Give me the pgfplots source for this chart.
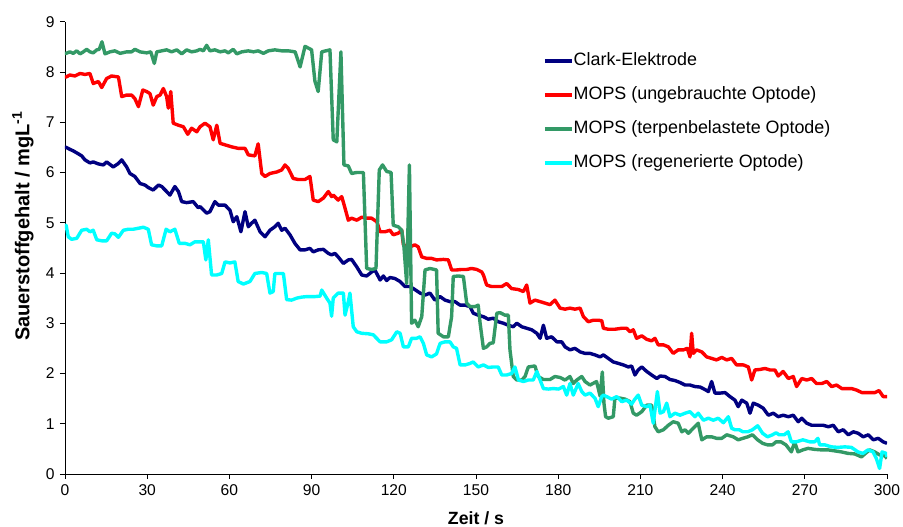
\documentclass[border=0pt]{standalone}
\usepackage{fontspec}
\setmainfont{Liberation Sans}
\usepackage{pgfplots}
\pgfplotsset{compat=1.18}
\definecolor{cnavy}{RGB}{0,0,128}
\definecolor{cred}{RGB}{255,0,0}
\definecolor{cgreen}{RGB}{51,153,102}
\definecolor{ccyan}{RGB}{0,255,255}
\begin{document}
\fontsize{15.6}{18}\selectfont
\begin{tikzpicture}
\begin{axis}[
  scale only axis, width=822pt, height=452.3pt,
  xmin=0, xmax=300, ymin=0, ymax=9,
  axis lines*=left,
  xtick={0,30,...,300}, ytick={0,1,...,9},
  tick align=outside, major tick length=5pt,
  tick style={black, line width=0.8pt},
  axis line style={black, line width=0.8pt},
  /pgf/number format/assume math mode=true,
  ticklabel style={font=\fontsize{15.6}{18}\selectfont},
  xlabel={\textbf{Zeit / s}},
  ylabel={\textbf{Sauerstoffgehalt / mgL\textsuperscript{-1}}},
  xlabel style={font=\fontsize{17.7}{20}\selectfont, at={(axis description cs:0.5,0)}, anchor=center, yshift=-44pt},
  ylabel style={font=\fontsize{20}{22}\selectfont, at={(axis description cs:0,0.548)}, anchor=center, yshift=42pt},
  legend cell align=left,
  legend style={at={(axis description cs:0.5815,0.9325)}, anchor=north west, draw=none, fill=none,
    font=\fontsize{17.9}{20}\selectfont, inner xsep=0pt, inner ysep=0pt,
    nodes={inner sep=0pt, text height=13pt, text depth=4.5pt}, row sep=16.5pt},
  legend image code/.code={\draw[#1, line width=3.5pt] (0pt,0pt) -- (27pt,0pt);},
  every axis plot/.append style={line width=3.4pt, line join=round},
]
\addplot[cnavy] coordinates {(0,6.5)(0.4,6.5)(1.8,6.46)(3.0,6.43)(4.9,6.37)(6.1,6.33)(7.3,6.25)(9.1,6.19)(10.3,6.21)(12.2,6.17)(14.0,6.15)(15.2,6.21)(17.6,6.11)(19.5,6.18)(20.7,6.25)(22.5,6.11)(23.7,5.98)(25.5,5.92)(27.4,5.78)(29.2,5.75)(30.4,5.70)(32.2,5.65)(34.1,5.75)(35.3,5.72)(37.1,5.62)(38.3,5.55)(40.1,5.72)(41.4,5.62)(42.6,5.42)(44.4,5.40)(46.8,5.42)(48.6,5.30)(49.3,5.32)(51.7,5.19)(52.9,5.22)(54.7,5.42)(56.0,5.35)(58.4,5.35)(60.2,5.25)(61.4,5.02)(62.7,5.12)(64.2,4.82)(65.7,5.22)(66.9,4.92)(68.1,4.99)(69.3,5.05)(71.2,4.82)(73.0,4.72)(74.8,4.85)(76.6,4.92)(77.8,4.99)(79.1,4.85)(80.3,4.89)(82.1,4.76)(83.9,4.59)(85.8,4.46)(87.6,4.46)(89.4,4.49)(90.6,4.42)(92.4,4.46)(94.3,4.47)(96.1,4.39)(97.3,4.36)(98.5,4.39)(99.7,4.32)(101.6,4.19)(103.4,4.26)(104.6,4.27)(106.5,4.12)(108.3,3.96)(110.1,3.94)(111.9,4.02)(113.1,4.06)(115.0,3.86)(116.2,3.94)(117.4,3.85)(118.6,3.91)(120.4,3.89)(122.3,3.83)(124.1,3.73)(125.9,3.73)(127.7,3.67)(129.6,3.60)(131.4,3.56)(133.2,3.60)(135.0,3.46)(136.9,3.53)(138.7,3.46)(140.5,3.43)(142.3,3.43)(144.2,3.36)(146.0,3.36)(147.8,3.33)(149.0,3.20)(150.8,3.16)(152.7,3.13)(154.5,3.08)(156.3,3.10)(158.1,3.03)(160.0,3.00)(161.8,2.96)(163.6,2.93)(164.9,3.00)(166.7,2.93)(168.5,2.90)(170.3,2.87)(172.2,2.80)(173.4,2.70)(174.6,2.96)(175.8,2.70)(177.6,2.73)(179.5,2.63)(181.3,2.63)(182.5,2.53)(184.3,2.47)(186.1,2.50)(188.0,2.43)(189.8,2.40)(191.6,2.40)(193.4,2.37)(195.3,2.33)(196.5,2.37)(198.3,2.30)(200.1,2.23)(202.0,2.20)(203.8,2.17)(205.6,2.13)(206.8,2.15)(208.0,1.97)(209.2,2.07)(210.5,2.13)(212.3,2.04)(214.1,1.97)(216.0,1.90)(217.2,1.95)(219.0,1.94)(220.8,1.88)(222.6,1.86)(224.5,1.82)(226.3,1.77)(228.1,1.77)(229.9,1.74)(231.8,1.73)(233.6,1.68)(234.8,1.64)(236.0,1.84)(237.2,1.61)(239.1,1.61)(240.9,1.62)(242.7,1.54)(244.5,1.47)(245.7,1.34)(247.0,1.47)(248.8,1.41)(250.0,1.21)(251.2,1.41)(253.0,1.37)(254.8,1.31)(256.7,1.17)(258.5,1.21)(260.3,1.14)(262.1,1.17)(264.0,1.14)(265.8,1.17)(267.6,1.04)(268.9,1.11)(270.7,1.01)(272.5,0.97)(274.9,0.97)(276.7,0.97)(278.6,0.94)(280.4,0.97)(282.2,0.84)(284.0,0.88)(285.9,0.78)(287.7,0.84)(289.5,0.81)(291.3,0.74)(293.2,0.78)(295.0,0.68)(296.8,0.71)(298.6,0.64)(300,0.61)};
\addlegendentry{Clark-Elektrode}
\addplot[cred] coordinates {(0,7.9)(0.4,7.90)(1.8,7.94)(3.6,7.92)(5.5,7.97)(7.3,7.95)(9.1,7.97)(10.3,7.77)(12.2,7.81)(13.4,7.69)(15.2,7.87)(17.0,7.92)(19.5,7.90)(20.7,7.51)(22.5,7.54)(24.3,7.54)(25.5,7.47)(26.8,7.31)(28.4,7.64)(29.8,7.61)(31.0,7.57)(32.2,7.34)(33.5,7.51)(34.7,7.54)(35.9,7.67)(37.1,7.51)(37.7,7.28)(38.6,7.61)(39.5,6.98)(41.4,6.94)(43.2,6.91)(44.8,6.76)(46.2,6.88)(48.1,6.81)(49.3,6.91)(51.1,6.98)(52.9,6.91)(54.1,6.65)(55.4,6.94)(56.6,6.58)(58.4,6.55)(60.8,6.51)(63.2,6.48)(65.7,6.48)(66.9,6.35)(69.3,6.33)(70.5,6.57)(71.8,5.98)(73.0,5.92)(74.8,5.98)(77.3,6.01)(79.1,6.05)(80.3,6.15)(81.5,6.08)(83.3,5.88)(85.1,5.86)(87.6,5.86)(89.4,5.92)(90.6,5.45)(92.4,5.42)(94.3,5.49)(96.1,5.62)(97.3,5.52)(97.9,5.55)(99.7,5.45)(101.0,5.52)(102.2,5.29)(103.4,5.05)(104.6,5.09)(106.5,5.05)(108.3,5.11)(110.1,5.09)(111.9,5.09)(113.8,5.02)(115.0,4.82)(116.8,4.82)(118.6,4.85)(119.8,4.76)(121.6,4.79)(122.9,4.85)(123.5,4.56)(125.9,4.52)(127.7,4.56)(128.9,4.52)(130.2,4.32)(132.0,4.29)(133.8,4.29)(135.6,4.26)(138.1,4.27)(139.9,4.26)(141.1,4.06)(142.9,4.06)(144.8,4.07)(146.6,4.07)(148.4,4.09)(150.3,4.07)(152.1,4.02)(152.7,3.96)(153.9,3.76)(155.7,3.73)(157.6,3.73)(159.4,3.73)(161.2,3.79)(163.0,3.69)(165.5,3.67)(167.3,3.63)(168.5,3.76)(169.7,3.40)(171.5,3.46)(173.4,3.43)(175.2,3.40)(177.0,3.37)(178.8,3.46)(180.7,3.30)(182.5,3.28)(184.3,3.30)(186.1,3.28)(188.0,3.30)(189.2,3.13)(191.0,3.03)(192.8,3.06)(194.6,3.06)(195.9,3.05)(196.5,2.90)(198.3,2.88)(200.7,2.88)(203.2,2.90)(205.0,2.90)(206.2,2.83)(207.4,2.87)(208.6,2.70)(210.5,2.75)(212.3,2.68)(214.1,2.65)(215.3,2.70)(216.5,2.57)(218.4,2.57)(220.2,2.53)(222.0,2.40)(223.8,2.47)(225.7,2.47)(227.1,2.50)(228.1,2.33)(228.7,2.80)(229.3,2.40)(230.5,2.47)(232.4,2.43)(234.2,2.33)(236.0,2.30)(237.8,2.27)(239.7,2.32)(241.5,2.27)(243.3,2.30)(245.1,2.17)(247.6,2.17)(249.4,2.13)(250.6,1.87)(251.8,2.07)(253.6,2.08)(255.5,2.10)(257.3,2.07)(259.1,2.07)(260.3,1.95)(262.1,2.04)(264.0,1.90)(265.8,1.94)(267.0,1.74)(268.9,1.90)(270.7,1.87)(272.5,1.90)(274.3,1.80)(276.2,1.80)(278.0,1.84)(279.8,1.74)(281.6,1.77)(283.5,1.70)(285.3,1.70)(287.1,1.70)(288.9,1.67)(290.8,1.62)(293.2,1.62)(295.6,1.62)(297.1,1.66)(298.6,1.54)(300,1.54)};
\addlegendentry{MOPS (ungebrauchte Optode)}
\addplot[cgreen] coordinates {(0,8.37)(0.4,8.37)(1.8,8.40)(3.0,8.37)(4.3,8.42)(5.5,8.36)(6.7,8.40)(7.9,8.45)(9.1,8.40)(10.3,8.38)(11.6,8.44)(12.5,8.45)(13.5,8.60)(14.6,8.36)(16.4,8.40)(18.2,8.42)(20.1,8.37)(22.5,8.40)(24.3,8.40)(25.5,8.45)(27.4,8.40)(29.8,8.38)(31.3,8.40)(32.6,8.17)(33.5,8.40)(35.3,8.42)(37.1,8.44)(38.9,8.40)(40.8,8.44)(42.6,8.36)(44.4,8.44)(46.2,8.40)(48.1,8.42)(49.3,8.45)(50.5,8.42)(51.7,8.53)(52.9,8.42)(54.7,8.44)(56.6,8.40)(58.4,8.42)(59.6,8.38)(61.4,8.45)(62.7,8.36)(64.5,8.40)(66.9,8.42)(68.8,8.40)(70.5,8.42)(72.4,8.37)(74.2,8.42)(76.6,8.44)(79.1,8.42)(81.5,8.42)(84.0,8.40)(85.8,8.10)(87.6,8.51)(90.0,8.44)(91.2,7.82)(92.4,7.61)(93.7,8.40)(96.7,8.44)(97.9,6.65)(99.2,6.61)(100.7,8.40)(101.8,6.15)(103.4,6.13)(104.6,5.98)(106.5,6.00)(108.9,6.00)(110.1,4.09)(111.9,4.07)(113.5,4.09)(114.7,6.05)(115.9,6.15)(117.4,6.02)(119.0,6.00)(119.8,4.95)(121.6,4.92)(122.9,4.85)(123.7,4.52)(124.7,3.79)(125.7,6.15)(126.5,3.00)(127.7,3.06)(128.9,2.93)(130.2,3.13)(131.4,4.06)(133.2,4.09)(135.6,4.06)(136.2,2.80)(138.1,2.73)(139.9,2.73)(141.1,3.13)(141.7,3.93)(143.5,3.94)(145.4,3.93)(146.6,3.40)(147.8,3.33)(149.6,3.33)(150.8,3.36)(151.5,3.00)(152.7,2.50)(153.9,2.53)(155.1,2.60)(156.3,2.61)(157.6,3.20)(158.8,3.21)(160.6,3.16)(161.8,3.16)(162.4,2.47)(163.6,1.94)(164.9,1.87)(166.7,1.87)(167.9,1.94)(169.1,2.13)(171.5,2.15)(172.7,1.94)(174.6,1.88)(177.0,1.88)(178.8,1.94)(180.7,1.92)(182.5,1.87)(184.3,1.94)(185.5,1.80)(186.8,1.87)(188.6,1.94)(189.8,1.84)(191.6,1.77)(194.0,1.84)(195.3,1.55)(196.1,2.03)(196.7,1.41)(197.3,1.14)(198.3,1.11)(200.1,1.14)(200.7,1.51)(202.6,1.51)(204.4,1.49)(206.2,1.44)(207.4,1.21)(208.6,1.17)(210.5,1.24)(212.3,1.37)(214.1,1.37)(215.3,0.94)(216.5,0.84)(218.4,0.88)(220.2,0.97)(222.0,1.04)(223.8,1.01)(225.1,0.84)(226.3,0.88)(227.5,0.81)(229.3,0.91)(231.1,1.01)(232.4,0.68)(234.2,0.74)(236.0,0.74)(237.8,0.71)(239.7,0.71)(241.5,0.78)(243.9,0.74)(245.7,0.68)(247.4,0.71)(249.2,0.74)(250.9,0.78)(252.8,0.68)(254.6,0.61)(256.4,0.58)(258.2,0.58)(259.5,0.64)(261.3,0.64)(263.1,0.58)(265.1,0.44)(266.3,0.64)(267.5,0.44)(269.3,0.48)(271.2,0.51)(273.6,0.49)(276.0,0.48)(278.5,0.48)(280.9,0.46)(283.3,0.44)(285.8,0.41)(288.2,0.40)(290.7,0.34)(291.9,0.40)(293.7,0.48)(295.5,0.44)(297.3,0.38)(299.2,0.36)(300,0.31)};
\addlegendentry{MOPS (terpenbelastete Optode)}
\addplot[ccyan] coordinates {(0,4.95)(0.4,4.95)(1.2,4.72)(2.4,4.67)(4.3,4.69)(6.1,4.85)(7.9,4.87)(9.1,4.82)(10.3,4.85)(11.6,4.66)(13.4,4.64)(15.2,4.64)(17.0,4.79)(18.2,4.78)(19.5,4.71)(21.3,4.85)(23.1,4.87)(24.9,4.87)(26.8,4.89)(28.6,4.91)(30.4,4.87)(31.6,4.56)(33.5,4.54)(35.3,4.54)(36.9,4.87)(38.3,4.82)(40.1,4.87)(41.7,4.59)(43.8,4.59)(45.6,4.56)(47.4,4.62)(49.3,4.62)(50.5,4.62)(51.4,4.26)(52.3,4.66)(53.5,3.96)(55.4,3.96)(57.2,3.99)(58.4,4.22)(60.2,4.20)(62.0,4.22)(63.2,3.83)(65.1,3.78)(67.5,3.83)(69.3,3.99)(71.8,4.01)(73.6,3.99)(74.8,3.60)(76.0,3.63)(76.6,3.99)(79.7,3.99)(80.9,3.47)(82.7,3.46)(84.6,3.50)(86.4,3.52)(88.2,3.53)(91.2,3.53)(93.1,3.54)(93.7,3.66)(95.5,3.50)(96.7,3.40)(97.3,3.14)(97.9,3.50)(99.7,3.60)(101.6,3.60)(102.2,3.16)(103.4,3.43)(104.0,3.60)(105.2,2.93)(106.5,2.83)(108.3,2.80)(110.7,2.79)(112.5,2.77)(115.0,2.63)(117.4,2.63)(119.2,2.67)(121.1,2.83)(122.3,2.80)(123.5,2.53)(125.3,2.53)(126.5,2.70)(128.3,2.70)(129.6,2.73)(130.8,2.60)(132.0,2.37)(133.8,2.33)(135.6,2.39)(136.9,2.60)(138.7,2.63)(140.5,2.63)(141.7,2.53)(142.9,2.50)(144.2,2.17)(146.0,2.17)(147.8,2.20)(149.0,2.23)(150.8,2.13)(152.7,2.17)(154.5,2.12)(156.3,2.13)(158.1,2.13)(159.4,1.97)(161.2,1.97)(163.0,2.00)(164.2,2.13)(165.5,1.87)(167.3,1.84)(169.1,1.87)(170.9,1.87)(172.2,2.04)(173.4,1.87)(174.6,1.70)(176.4,1.69)(178.2,1.70)(180.1,1.69)(181.9,1.74)(183.1,1.57)(184.3,1.80)(185.5,1.57)(187.3,1.80)(188.6,1.64)(189.8,1.57)(191.6,1.61)(193.4,1.51)(194.6,1.34)(195.9,1.54)(196.5,1.57)(197.7,1.54)(199.5,1.49)(201.4,1.54)(203.2,1.44)(205.0,1.47)(206.8,1.39)(208.0,1.49)(209.2,1.57)(210.5,1.37)(212.3,1.34)(213.5,1.37)(214.7,1.01)(216.2,1.64)(217.2,1.21)(218.4,1.24)(219.6,1.41)(220.8,1.14)(222.6,1.21)(224.5,1.17)(226.3,1.21)(228.1,1.24)(229.9,1.14)(231.1,1.21)(233.0,1.07)(234.8,1.11)(236.6,1.07)(238.4,1.11)(240.3,1.02)(242.1,1.14)(243.3,0.91)(244.5,0.88)(246.1,0.88)(247.4,0.84)(249.2,0.84)(250.9,0.88)(252.8,0.96)(254.6,0.81)(256.4,0.74)(258.2,0.78)(259.5,0.82)(260.7,0.78)(262.5,0.78)(263.9,0.84)(265.1,0.64)(266.9,0.64)(269.3,0.68)(271.8,0.64)(273.6,0.64)(274.8,0.71)(275.4,0.58)(277.3,0.58)(279.7,0.54)(282.1,0.53)(284.6,0.54)(287.0,0.53)(289.4,0.44)(291.2,0.41)(293.1,0.48)(294.9,0.44)(296.1,0.31)(297.3,0.11)(298.2,0.44)(299.7,0.41)(300,0.34)};
\addlegendentry{MOPS (regenerierte Optode)}
\end{axis}
\pgfresetboundingbox
\path[use as bounding box] (-65pt,-53pt) rectangle (838pt,474pt);
\end{tikzpicture}
\end{document}
